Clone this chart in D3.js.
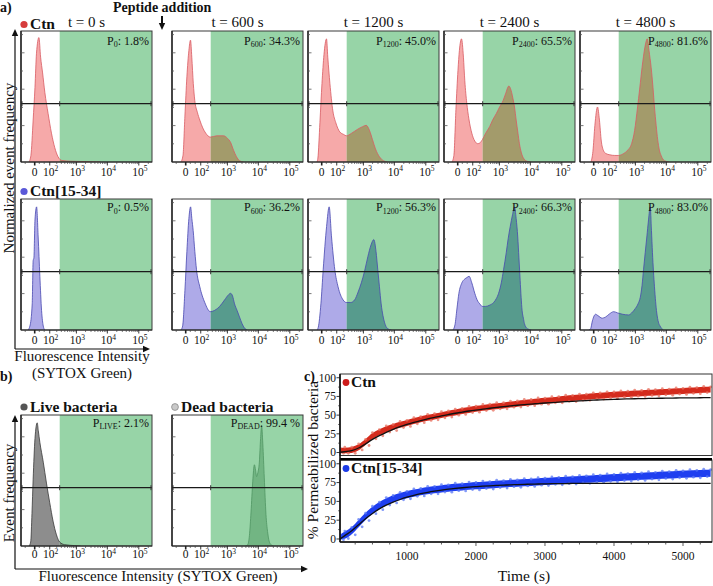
<!DOCTYPE html>
<html><head><meta charset="utf-8">
<script src="https://cdn.jsdelivr.net/npm/d3@7/dist/d3.min.js"></script>
<style>body{margin:0;background:#fff}svg{display:block}</style>
</head><body><svg width="713" height="586" font-family="'Liberation Serif', 'Times New Roman', 'DejaVu Serif', serif"></svg>
<script>
// ---------------- DATA ----------------
// histogram points: [fluorescence intensity, normalized frequency (% of panel height)]
const ctnT0=[[-26,0],[-16,5],[-6,32],[1,57],[7,83],[18,95],[27,80],[39,68],[55,53],[83,37],[120,22],[166,11],[225,4],[310,1.2],[640,0.6],[1370,0.4],[2880,0.2],[6000,0]];
const ctnT600=[[-21,0],[-11,5],[-3,35],[4.5,65],[13,85],[21,93],[28,80],[37,60],[47,47],[67,38],[90,32],[124,26],[166,22],[252,19],[430,20],[746,20],[1014,18],[1274,15],[1594,9],[1995,4],[2490,1],[3342,0]];
const ctnT1200=[[-21,0],[-16,3],[-7,30],[1,60],[9,82],[21,94],[28,80],[41,60],[63,39],[90,30],[137,23],[200,21],[252,20],[396,22],[639,25],[940,27],[1240,28],[1594,24],[1995,17],[2490,10],[3342,4],[4484,1],[6006,0]];
const ctnT2400=[[-26,0],[-16,5],[-7,40],[1,70],[6.5,85],[16,94],[26,80],[34,62],[47,45],[63,33],[90,22],[124,16],[166,14],[200,14.5],[252,17],[336,22],[465,27],[590,32],[790,37],[1014,42],[1330,47],[1594,52],[2043,58],[2318,56],[2746,49],[3113,42],[3527,32],[4024,22],[4484,14],[5190,7],[6006,3],[8045,0.5],[10770,0]];
const ctnT4800=[[-11,0],[-3,8],[4.5,28],[16,42],[26,32],[37,16],[51,9],[71,6.5],[112,5.5],[183,5],[260,5],[396,6.5],[546,9],[746,14],[940,24],[1181,42],[1372,55],[1760,77],[2147,90],[2440,94],[2786,85],[3273,72],[3738,57],[4177,42],[4731,28],[5305,17],[6006,9],[6810,5],[8678,1],[12460,0]];
const ctn15T0=[[-32,0],[-21,3],[-10,20],[-6,53],[-3,55],[1,84],[7.4,94],[14.4,71],[22.9,41],[32.5,15],[43.5,3],[54.7,0]];
const ctn15T600=[[-21,0],[-12.6,3],[-3,30],[4.5,60],[13,85],[21.4,94],[28.3,85],[36.2,76],[47.4,60],[60.2,46],[90,33],[151,21],[252,14],[365,15],[546,18],[807,23],[1097,27],[1274,28],[1480,26],[1719,20],[2072,15],[2490,10],[2997,5],[3600,1.5],[4484,0]];
const ctn15T1200=[[-21,0],[-14.4,2],[-3,20],[5.7,46],[21.4,79],[36.2,94],[52.5,71],[80.2,46],[115,33],[188,23],[252,21],[365,21],[504,23],[665,29],[852,36],[1097,45],[1404,56],[1786,65],[2198,69],[2589,60],[2953,46],[3342,33],[3790,20],[4330,11],[4837,6],[6148,1],[8045,0]];
const ctn15T2400=[[-21,0],[-11,4],[-3,16],[4.5,28],[17.8,36],[34.3,39],[47.4,40],[65,41],[90,36],[124,28],[166,22],[200,20],[252,18],[336,18],[465,19],[639,21],[790,24],[940,28],[1155,36],[1372,46],[1680,59],[1950,70],[2266,79],[2687,88],[3113,94],[3527,85],[3961,71],[4320,55],[4731,38],[5080,25],[5455,15],[6006,9],[6465,5],[8045,1],[10770,0]];
const ctn15T4800=[[-21,0],[-12.6,1],[-5,7],[7.4,12],[17.8,11],[43.5,9],[71,10],[112,12.5],[166,14],[239,13],[365,12],[590,11.5],[746,13],[1000,16.5],[1225,20],[1450,25],[1656,34],[1850,46],[2100,59],[2368,71],[2687,84],[3046,94],[3342,76],[3600,59],[4177,33],[4952,13],[5590,6],[6320,3],[8045,0]];
const liveBacteria=[[-26,0],[-17,3],[-11,25],[-6,51],[1,82],[10,94],[15,88],[23,79],[43.5,64],[68,48],[100,33],[141,19],[195,8.5],[260,3],[396,1],[871,0.3],[1372,0]];
const deadBacteria=[[3870,0],[4585,1],[5190,8],[5850,26],[6620,49],[7480,62],[8160,58],[8800,53],[9660,56],[10770,64],[11800,82],[12720,92],[13890,78],[15490,52],[17520,24],[19690,11],[23430,2],[29780,0]];

const timeLabels=["t = 0 s","t = 600 s","t = 1200 s","t = 2400 s","t = 4800 s"];
const pSubs=["0","600","1200","2400","4800"];
const pCtn=["1.8%","34.3%","45.0%","65.5%","81.6%"];
const pCtn15=["0.5%","36.2%","56.3%","66.3%","83.0%"];
const gateValue=260;
const histTicksMajor=[0,100,1000,10000,100000];
const histTickLabels=[["0",""],["10","2"],["10","3"],["10","4"],["10","5"]];
const histTicksMinor=[-50,20,50,200,300,400,500,600,700,800,900,2000,3000,4000,5000,6000,7000,8000,9000,20000,30000,40000,50000,60000,70000,80000,90000,200000];

// panel c: kinetics
const timeS=[30,100,200,300,400,500,600,700,800,900,1000,1100,1200,1300,1400,1500,1600,1700,1800,1900,2000,2100,2200,2300,2400,2500,2600,2700,2800,2900,3000,3100,3200,3300,3400,3500,3600,3700,3800,3900,4000,4100,4200,4300,4400,4500,4600,4700,4800,4900,5000,5100,5200,5300,5400];
const ctnData=[2.5,2.5,3.5,7,14,22,27,31,34,37,39.5,42,44.5,46.5,48.3,50,52,53.5,55.5,57,58.5,59.7,61,62,63,64.2,65.3,66.3,67.3,68.3,69.2,70,71,72,72.8,73.6,74.4,75.2,76,76.6,77.3,77.8,78.4,78.9,79.4,79.9,80.4,80.8,81.3,81.8,82.3,82.8,83.3,83.8,84.2];
const ctnFit=[0.5,1,2.5,6,11.5,17.5,22.5,27,31,34.5,37.5,40.3,42.8,45,47,49,50.8,52.5,54,55.5,56.8,58,59.2,60.3,61.3,62.3,63.2,64,64.8,65.5,66.2,66.8,67.4,68,68.5,69,69.5,70,70.4,70.8,71.1,71.4,71.7,71.9,72.1,72.3,72.5,72.6,72.8,72.9,73,73.1,73.2,73.3,73.4];
const ctn15Data=[1,5,11,20.5,30,38,44.5,49.5,53.5,56.5,59,61,62.8,64.3,65.6,66.7,67.7,68.6,69.4,70.1,70.8,71.4,72,72.6,73.2,73.8,74.3,74.8,75.4,75.9,76.5,77,77.5,78,78.5,79,79.5,80,80.5,81,81.5,82,82.5,83,83.4,83.9,84.3,84.8,85.2,85.7,86.1,86.5,86.9,87.3,87.7];
const ctn15Fit=[0,4.5,11,19,27,34,40,45,49,52.5,55.5,58,60.2,62,63.6,65,66.2,67.2,68.1,68.9,69.6,70.2,70.7,71.2,71.6,72,72.3,72.6,72.9,73.1,73.3,73.5,73.6,73.7,73.8,73.9,74,74,74,74,74,74,74,74,74,74,74,74,74,74,74,74,74,74,74];
const ctnSpread=4, ctn15Spread=4.8;
const pctTicks=[0,25,50,75,100];
const timeTicks=[1000,2000,3000,4000,5000];

// ---------------- DRAW ----------------
const FONT="'Liberation Serif', 'Times New Roman', 'DejaVu Serif', serif";
const svg=d3.select("svg");
const defs=svg.append("defs");
const GREEN="#97d4a7";
let clipN=0;
const HW=131, HH=131;

function txt(x,y,s,o={}){
  return svg.append("text").attr("x",x).attr("y",y).text(s)
    .attr("font-family",FONT).attr("fill","#111")
    .attr("font-size",o.size||14).attr("font-weight",o.bold?"bold":"normal")
    .attr("text-anchor",o.anchor||"start");
}
function arrowHead(x,y,dir){
  const s=3.2,l=7;
  let p;
  if(dir==="up")p=[[x,y],[x-s,y+l],[x+s,y+l]];
  if(dir==="down")p=[[x,y],[x-s,y-l],[x+s,y-l]];
  if(dir==="right")p=[[x,y],[x-l,y-s],[x-l,y+s]];
  svg.append("path").attr("d","M"+p.join("L")+"Z").attr("fill","#111");
}

function histPanel(L,T,data,st,pSub,pVal,pDy){
  const x=d3.scaleSymlog().constant(50).domain([-86,262144]).range([L,L+HW]);
  const y=d3.scaleLinear().domain([0,100]).range([T+HH,T]);
  const gx=x(gateValue);
  const id="cl"+(clipN++);
  defs.append("clipPath").attr("id",id+"a").append("rect").attr("x",L).attr("y",T).attr("width",gx-L).attr("height",HH);
  defs.append("clipPath").attr("id",id+"b").append("rect").attr("x",gx).attr("y",T).attr("width",L+HW-gx).attr("height",HH);
  defs.append("clipPath").attr("id",id+"c").append("rect").attr("x",L).attr("y",T).attr("width",HW).attr("height",HH);
  svg.append("rect").attr("x",gx).attr("y",T).attr("width",L+HW-gx).attr("height",HH).attr("fill",GREEN);
  const area=d3.area().x(d=>x(d[0])).y0(y(0)).y1(d=>y(d[1])).curve(d3.curveMonotoneX);
  const line=d3.line().x(d=>x(d[0])).y(d=>y(d[1])).curve(d3.curveMonotoneX);
  svg.append("path").attr("d",area(data)).attr("fill",st.left).attr("clip-path",`url(#${id}a)`);
  svg.append("path").attr("d",area(data)).attr("fill",st.right).attr("clip-path",`url(#${id}b)`);
  svg.append("path").attr("d",line(data)).attr("fill","none").attr("stroke",st.stroke).attr("stroke-width",0.8).attr("clip-path",`url(#${id}c)`);
  const gy=T+HH*0.555;
  svg.append("line").attr("x1",L).attr("x2",L+HW).attr("y1",gy).attr("y2",gy).attr("stroke","#1a1a1a").attr("stroke-width",1.3);
  [L+1,gx,L+HW-1].forEach(v=>svg.append("line").attr("x1",v).attr("x2",v).attr("y1",gy-2.5).attr("y2",gy+2.5).attr("stroke","#333").attr("stroke-width",1));
  svg.append("rect").attr("x",L).attr("y",T).attr("width",HW).attr("height",HH).attr("fill","none").attr("stroke","#3a3a3a").attr("stroke-width",1);
  svg.append("line").attr("x1",L).attr("x2",L).attr("y1",T).attr("y2",T+HH).attr("stroke","#222").attr("stroke-width",1.4);
  svg.append("line").attr("x1",L).attr("x2",L+HW).attr("y1",T+HH).attr("y2",T+HH).attr("stroke","#222").attr("stroke-width",1.2);
  for(let k=1;k<8;k++){const yy=T+HH-k*18.2; if(yy>T+2) svg.append("line").attr("x1",L).attr("x2",L+(k%2?2:3.5)).attr("y1",yy).attr("y2",yy).attr("stroke","#555").attr("stroke-width",0.8);}
  histTicksMinor.forEach(v=>svg.append("line").attr("x1",x(v)).attr("x2",x(v)).attr("y1",T+HH).attr("y2",T+HH+2).attr("stroke","#444").attr("stroke-width",0.7));
  histTicksMajor.forEach(v=>svg.append("line").attr("x1",x(v)).attr("x2",x(v)).attr("y1",T+HH).attr("y2",T+HH+3.5).attr("stroke","#222").attr("stroke-width",v===0?1.6:0.9));
  histTicksMajor.forEach((v,i)=>{
    const t=svg.append("text").attr("x",x(v)+(i===0?0:1)).attr("y",T+HH+(pDy.tick)).attr("text-anchor","middle").attr("font-size",11.5).attr("font-family",FONT).attr("fill","#111");
    t.append("tspan").text(histTickLabels[i][0]);
    if(histTickLabels[i][1]) t.append("tspan").attr("dy",-4.5).attr("font-size",7.5).text(histTickLabels[i][1]);
  });
  const pt=svg.append("text").attr("x",L+HW-3).attr("y",T+pDy.p).attr("text-anchor","end").attr("font-size",12).attr("font-family",FONT).attr("fill","#111");
  pt.append("tspan").text("P");
  pt.append("tspan").attr("dy",2.5).attr("font-size",8).text(pSub);
  pt.append("tspan").attr("dy",-2.5).text(": "+pVal);
}

const histX=[21,172,308,444,580];
const styleCtn={left:"#f6a9a9",right:"#a39b6b",stroke:"#d85a62"};
const styleCtn15={left:"#aeaae8",right:"#579b8d",stroke:"#4848b0"};
const rowData=[[ctnT0,ctnT600,ctnT1200,ctnT2400,ctnT4800],[ctn15T0,ctn15T600,ctn15T1200,ctn15T2400,ctn15T4800]];
const rowTop=[31,199];
histX.forEach((L,i)=>{
  histPanel(L,rowTop[0],rowData[0][i],styleCtn,pSubs[i],pCtn[i],{p:13.5,tick:13.5});
  histPanel(L,rowTop[1],rowData[1][i],styleCtn15,pSubs[i],pCtn15[i],{p:12,tick:14});
  txt(L+HW/2,26.5,timeLabels[i],{size:15,anchor:"middle"});
});
txt(0,12,"a)",{bold:true,size:14});
txt(113,12,"Peptide addition",{bold:true,size:14});
svg.append("line").attr("x1",162).attr("x2",162).attr("y1",16).attr("y2",25).attr("stroke","#111").attr("stroke-width",2);
arrowHead(162,30,"down");
svg.append("circle").attr("cx",24).attr("cy",24.5).attr("r",3.6).attr("fill","#d63c3c");
txt(30,29,"Ctn",{bold:true,size:15.5});
svg.append("circle").attr("cx",24).attr("cy",191.5).attr("r",3.6).attr("fill","#5a58d8");
txt(30,196,"Ctn[15-34]",{bold:true,size:15.5});
svg.append("line").attr("x1",15).attr("x2",15).attr("y1",349).attr("y2",35).attr("stroke","#111").attr("stroke-width",1.2);
arrowHead(15,29,"up");
svg.append("line").attr("x1",15).attr("x2",144).attr("y1",349).attr("y2",349).attr("stroke","#111").attr("stroke-width",1.2);
arrowHead(150,349,"right");
svg.append("text").attr("transform","translate(13.5,168) rotate(-90)").attr("text-anchor","middle").attr("font-size",15).attr("font-family",FONT).attr("fill","#111").text("Normalized event frequency");
txt(82,361,"Fluorescence Intensity",{size:15,anchor:"middle"});
txt(82,378,"(SYTOX Green)",{size:15,anchor:"middle"});

// panel b
const bTop=415;
histPanel(21,bTop,liveBacteria,{left:"#8d8d8d",right:"#6f8c74",stroke:"#3a3a3a"},"LIVE","2.1%",{p:11.5,tick:12});
histPanel(172,bTop,deadBacteria,{left:"#72b583",right:"#72b583",stroke:"#4f9462"},"DEAD","99.4 %",{p:11.5,tick:12});
txt(0,381,"b)",{bold:true,size:14});
svg.append("circle").attr("cx",24).attr("cy",407).attr("r",3.6).attr("fill","#555");
txt(30,411.5,"Live bacteria",{bold:true,size:15.5});
svg.append("circle").attr("cx",175).attr("cy",407).attr("r",3.4).attr("fill","#c9c9c9").attr("stroke","#8a8a8a").attr("stroke-width",0.8);
txt(181,411.5,"Dead bacteria",{bold:true,size:15.5});
svg.append("line").attr("x1",15).attr("x2",15).attr("y1",569).attr("y2",421).attr("stroke","#111").attr("stroke-width",1.2);
arrowHead(15,415,"up");
svg.append("line").attr("x1",15).attr("x2",302).attr("y1",569).attr("y2",569).attr("stroke","#111").attr("stroke-width",1.2);
arrowHead(308,569,"right");
svg.append("text").attr("transform","translate(13.5,493) rotate(-90)").attr("text-anchor","middle").attr("font-size",15).attr("font-family",FONT).attr("fill","#111").text("Event frequency");
txt(158,581,"Fluorescence Intensity (SYTOX Green)",{size:15,anchor:"middle"});

// panel c
const xT=d3.scaleLinear().domain([30,5420]).range([340,712]);
const cPlots=[
  {top:374,bottom:455.5,data:ctnData,fit:ctnFit,spread:ctnSpread,fill:"#d42b1d",edge:"#e8705f",dot:"#cc1a1a",label:"Ctn"},
  {top:460,bottom:542,data:ctn15Data,fit:ctn15Fit,spread:ctn15Spread,fill:"#1f3ff0",edge:"#5a78f6",dot:"#1a3ae6",label:"Ctn[15-34]"}
];
cPlots.forEach((p,pi)=>{
  const y=d3.scaleLinear().domain([-4,105]).range([p.bottom,p.top]);
  const id="cc"+pi;
  defs.append("clipPath").attr("id",id).append("rect").attr("x",340).attr("y",p.top).attr("width",372).attr("height",p.bottom-p.top);
  const g=svg.append("g").attr("clip-path",`url(#${id})`);
  const pts=timeS.map((t,i)=>({t,v:p.data[i],f:p.fit[i]}));
  const band=d3.area().x(d=>xT(d.t)).y0(d=>y(Math.max(d.v-p.spread,-1))).y1(d=>y(d.v+p.spread)).curve(d3.curveMonotoneX);
  g.append("path").attr("d",band(pts)).attr("fill",p.fill);
  pts.forEach((d,i)=>{
    const hi=p.spread*(i%2?1.15:0.9), lo=p.spread*(i%2?0.9:1.15);
    g.append("circle").attr("cx",xT(d.t)).attr("cy",y(d.v+hi)).attr("r",1.4).attr("fill",p.edge).attr("opacity",0.75);
    g.append("circle").attr("cx",xT(d.t)+3.5).attr("cy",y(Math.max(d.v-lo,-1))).attr("r",1.4).attr("fill",p.edge).attr("opacity",0.75);
  });
  const fl=d3.line().x(d=>xT(d.t)).y(d=>y(d.f)).curve(d3.curveMonotoneX);
  g.append("path").attr("d",fl(pts)).attr("fill","none").attr("stroke","#111").attr("stroke-width",1.3);
  svg.append("rect").attr("x",340).attr("y",p.top).attr("width",372).attr("height",p.bottom-p.top).attr("fill","none").attr("stroke","#333").attr("stroke-width",1);
  pctTicks.forEach(v=>{
    svg.append("line").attr("x1",336.5).attr("x2",340).attr("y1",y(v)).attr("y2",y(v)).attr("stroke","#222").attr("stroke-width",0.9);
    txt(336,y(v)+3.8,String(v),{size:11.5,anchor:"end"});
  });
  [12.5,37.5,62.5,87.5].forEach(v=>svg.append("line").attr("x1",338).attr("x2",340).attr("y1",y(v)).attr("y2",y(v)).attr("stroke","#444").attr("stroke-width",0.7));
  svg.append("circle").attr("cx",346).attr("cy",p.top+8.5).attr("r",3.4).attr("fill",p.dot);
  txt(351,p.top+12.5,p.label,{bold:true,size:15.5});
});
svg.append("line").attr("x1",340).attr("x2",712).attr("y1",459.3).attr("y2",459.3).attr("stroke","#000").attr("stroke-width",2.6);
svg.append("line").attr("x1",340).attr("x2",340).attr("y1",374).attr("y2",542).attr("stroke","#111").attr("stroke-width",1.6);
svg.append("line").attr("x1",340).attr("x2",712).attr("y1",542).attr("y2",542).attr("stroke","#111").attr("stroke-width",1.3);
d3.range(250,5420,250).forEach(v=>{
  const major=v%1000===0;
  svg.append("line").attr("x1",xT(v)).attr("x2",xT(v)).attr("y1",542).attr("y2",major?546:544.5).attr("stroke","#333").attr("stroke-width",0.8);
});
timeTicks.forEach(v=>txt(xT(v),560,String(v),{size:11.5,anchor:"middle"}));
txt(304,381,"c)",{bold:true,size:14});
svg.append("text").attr("transform","translate(318,460) rotate(-90)").attr("text-anchor","middle").attr("font-size",15.5).attr("font-family",FONT).attr("fill","#111").text("% Permeabilized bacteria");
txt(524,581,"Time (s)",{size:15.5,anchor:"middle"});
</script></body></html>
